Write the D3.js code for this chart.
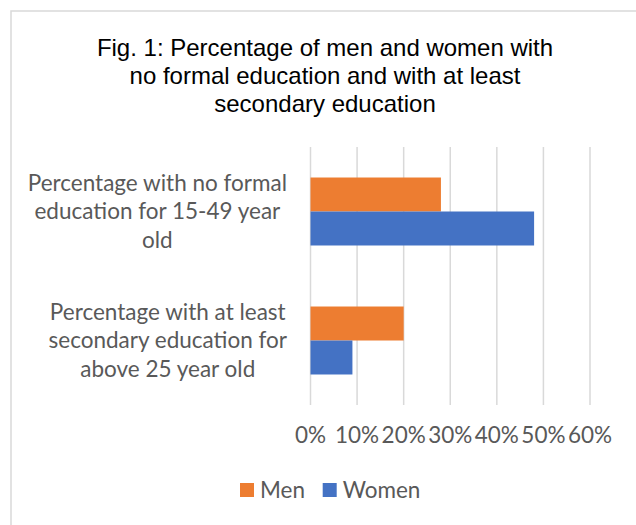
<!DOCTYPE html>
<html>
<head>
<meta charset="utf-8">
<script src="https://cdn.jsdelivr.net/npm/d3@7"></script>
<style>
  html, body { margin: 0; padding: 0; background: #fff; }
  svg { display: block; }
</style>
</head>
<body>
<svg id="chart" width="636" height="525"></svg>
<script>
const titleLines = ["Fig. 1: Percentage of men and women with", "no formal education and with at least", "secondary education"];
const categories = ["Percentage with no formal education for 15-49 year old", "Percentage with at least secondary education for above 25 year old"];
const categoryLines = [["Percentage with no formal", "education for 15-49 year", "old"], ["Percentage with at least", "secondary education for", "above 25 year old"]];
const seriesNames = ["Men", "Women"];
const menValues = [0.28, 0.20];
const womenValues = [0.48, 0.09];
const tickValues = [0, 0.1, 0.2, 0.3, 0.4, 0.5, 0.6];
const colors = ["#ED7D31", "#4472C4"];

const svg = d3.select("#chart");
const W = 636, H = 525;
svg.append("rect").attr("width", W).attr("height", H).attr("fill", "#fff");

// chart border (only top & left visible)
svg.append("path").attr("d", `M11,${H+5} L11,11 L${W+5},11`).attr("fill", "none")
  .attr("stroke", "#d9d9d9").attr("stroke-width", 1.5);

const labelFont = "Lato, 'Open Sans', sans-serif";
const labelColor = "#595959";
const labelSize = 22.5;

// title
svg.append("g").selectAll("text").data(titleLines).join("text")
  .attr("x", 325).attr("y", (d, i) => 56 + i * 28)
  .attr("text-anchor", "middle")
  .attr("font-family", "'Liberation Sans', Arial, sans-serif")
  .attr("font-size", 24).attr("fill", "#000")
  .text(d => d);

const plotTop = 147, plotBottom = 405, x0 = 310.5, x1 = 590;
const x = d3.scaleLinear().domain([0, 0.6]).range([x0, x1]);
const y = d3.scaleBand().domain(categories).range([plotTop, plotBottom]).paddingInner(0.473).paddingOuter(0.2365);
const ySub = d3.scaleBand().domain(seriesNames).range([0, y.bandwidth()]);

// gridlines
svg.append("g").selectAll("line").data(tickValues).join("line")
  .attr("x1", d => x(d)).attr("x2", d => x(d))
  .attr("y1", plotTop).attr("y2", plotBottom)
  .attr("stroke", "#d9d9d9").attr("stroke-width", 1.5);

// bars
const rows = categories.map((c, i) => ({ c, vals: [menValues[i], womenValues[i]] }));
const g = svg.append("g");
rows.forEach(r => {
  g.append("g").attr("transform", `translate(0,${y(r.c)})`)
    .selectAll("rect").data(r.vals).join("rect")
    .attr("x", x(0))
    .attr("y", (d, i) => ySub(seriesNames[i]))
    .attr("width", d => x(d) - x(0))
    .attr("height", ySub.bandwidth())
    .attr("fill", (d, i) => colors[i]);
});

// category labels
categories.forEach((c, ci) => {
  const lines = categoryLines[ci];
  const cy = y(c) + y.bandwidth() / 2;
  const lh = 28.5;
  const grp = svg.append("g");
  const texts = grp.selectAll("text").data(lines).join("text")
    .attr("y", (d, i) => cy + (i - (lines.length - 1) / 2) * lh)
    .attr("dy", "0.35em")
    .attr("text-anchor", "middle")
    .attr("font-family", labelFont).attr("font-size", labelSize)
    .attr("fill", labelColor).text(d => d);
  let maxW = 0;
  texts.each(function() { maxW = Math.max(maxW, this.getComputedTextLength()); });
  texts.attr("x", 287 - maxW / 2);
});

// x axis tick labels
const fmt = d3.format(".0%");
svg.append("g").selectAll("text").data(tickValues).join("text")
  .attr("x", d => x(d)).attr("y", 435).attr("dy", "0.35em")
  .attr("text-anchor", "middle")
  .attr("font-family", labelFont).attr("font-size", labelSize)
  .attr("fill", labelColor).text(d => fmt(d));

// legend
const legendX = [240, 322.7];
const lg = svg.append("g");
seriesNames.forEach((s, i) => {
  lg.append("rect").attr("x", legendX[i]).attr("y", 483).attr("width", 14).attr("height", 14).attr("fill", colors[i]);
  lg.append("text").attr("x", legendX[i] + 20).attr("y", 490).attr("dy", "0.35em")
    .attr("font-family", labelFont).attr("font-size", labelSize)
    .attr("fill", labelColor).text(s);
});
</script>
</body>
</html>
